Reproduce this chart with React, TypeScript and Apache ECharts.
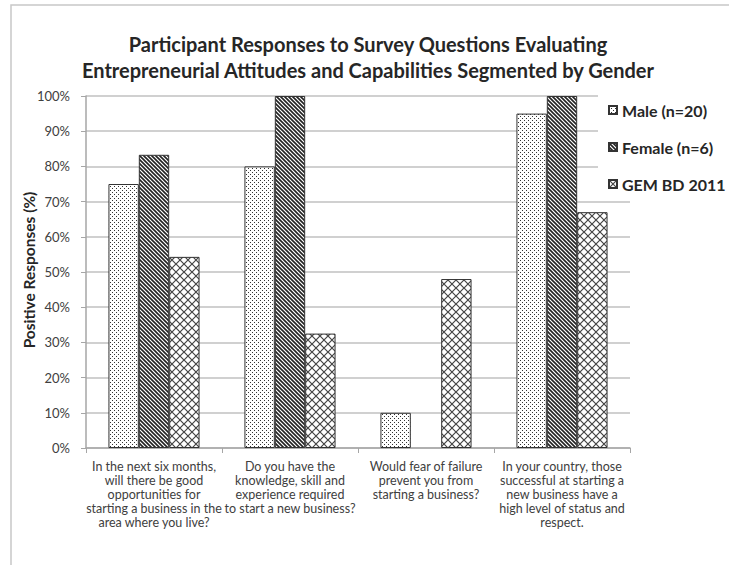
import React, { useEffect, useRef } from "react";
import * as echarts from "echarts";

const categories = [
  "In the next six months,\nwill there be good\nopportunities for\nstarting a business in the\narea where you live?",
  "Do you have the\nknowledge, skill and\nexperience required\nto start a new business?",
  "Would fear of failure\nprevent you from\nstarting a business?",
  "In your country, those\nsuccessful at starting a\nnew business have a\nhigh level of status and\nrespect.",
];
const seriesNames = ["Male (n=20)", "Female (n=6)", "GEM BD 2011"];
const maleValues = [75, 80, 10, 95];
const femaleValues = [83.3, 100, null, 100];
const gemValues = [54.3, 32.5, 48, 67];
const titleLines = [
  "Participant Responses to Survey Questions Evaluating",
  "Entrepreneurial Attitudes and Capabilities Segmented by Gender",
];
const yAxisTitle = "Positive Responses (%)";

const svgUrl = (s: string) => "data:image/svg+xml;utf8," + encodeURIComponent(s);

const dotTile = svgUrl(
  '<svg xmlns="http://www.w3.org/2000/svg" width="4" height="4"><rect width="4" height="4" fill="#fff"/><rect x="0" y="0" width="1" height="1" fill="#333"/><rect x="2" y="2" width="1" height="1" fill="#333"/></svg>'
);
const hatchTile = svgUrl(
  '<svg xmlns="http://www.w3.org/2000/svg" width="4" height="4"><rect width="4" height="4" fill="#fff"/><path d="M-1,-1 L5,5 M-1,3 L1,5 M3,-1 L5,1" stroke="#222" stroke-width="1.6"/></svg>'
);
const crossTile = svgUrl(
  '<svg xmlns="http://www.w3.org/2000/svg" width="8" height="8"><rect width="8" height="8" fill="#fff"/><path d="M0,0 L8,8 M8,0 L0,8" stroke="#444" stroke-width="1.2"/></svg>'
);

const patterns = [
  { image: dotTile, repeat: "repeat", imageWidth: 4, imageHeight: 4 },
  { image: hatchTile, repeat: "repeat", imageWidth: 4, imageHeight: 4 },
  { image: crossTile, repeat: "repeat", imageWidth: 8, imageHeight: 8 },
];

export default function App() {
  const ref = useRef<HTMLDivElement>(null);
  useEffect(() => {
    if (!ref.current) return;
    const chart = echarts.init(ref.current, undefined, { renderer: "svg" });
    const font = "Lato";
    const values = [maleValues, femaleValues, gemValues];
    chart.setOption({
      animation: false,
      backgroundColor: "#fff",
      textStyle: { fontFamily: font },
      grid: { left: 86, right: 99, top: 96, bottom: 117 },
      graphic: [
        {
          type: "rect",
          shape: { x: 11, y: 5, width: 740, height: 600 },
          style: { fill: "none", stroke: "#c8c8c8", lineWidth: 1.5 },
          z: -1,
        },
        ...titleLines.map((t, i) => ({
          type: "text",
          x: 368,
          y: 44 + i * 26,
          style: {
            text: t,
            align: "center",
            verticalAlign: "middle",
            textAlign: "center",
            textVerticalAlign: "middle",
            fill: "#262626",
            fontSize: 20,
            fontWeight: "bold",
            fontFamily: font,
          },
        })),
        {
          type: "text",
          x: 29,
          y: 270,
          rotation: Math.PI / 2,
          style: {
            text: yAxisTitle,
            align: "center",
            verticalAlign: "middle",
            textAlign: "center",
            textVerticalAlign: "middle",
            fill: "#262626",
            fontSize: 15.5,
            fontWeight: "bold",
            fontFamily: font,
          },
        },
      ],
      legend: {
        orient: "vertical",
        left: 598,
        top: 90,
        icon: "rect",
        itemWidth: 8,
        itemHeight: 8,
        itemGap: 21,
        padding: [12, 8, 6, 10],
        backgroundColor: "#fff",
        textStyle: { fontSize: 16, fontWeight: "bold", color: "#262626", fontFamily: font },
        data: seriesNames,
      },
      xAxis: {
        type: "category",
        data: categories,
        axisLine: { lineStyle: { color: "#a6a6a6", width: 1.5 } },
        axisTick: { show: true, length: 5, lineStyle: { color: "#a6a6a6" } },
        axisLabel: {
          interval: 0,
          fontSize: 12.5,
          lineHeight: 14,
          color: "#404040",
          margin: 11,
          fontFamily: font,
        },
      },
      yAxis: {
        type: "value",
        min: 0,
        max: 100,
        interval: 10,
        axisLine: { show: true, lineStyle: { color: "#a6a6a6", width: 1.5 } },
        axisTick: { show: true, length: 5, lineStyle: { color: "#a6a6a6" } },
        axisLabel: { formatter: "{value}%", fontSize: 13, color: "#404040", margin: 16, fontFamily: font },
        splitLine: { lineStyle: { color: "#c0c0c0", width: 1.5 } },
      },
      series: seriesNames.map((name, i) => ({
        name,
        type: "bar",
        data: values[i],
        barGap: "0%",
        barCategoryGap: "33%",
        itemStyle: { color: patterns[i], borderColor: "#333", borderWidth: 1 },
      })),
    });
    return () => chart.dispose();
  }, []);
  return (
    <div
      ref={ref}
      style={{ position: "fixed", left: 0, top: 0, width: 729, height: 565 }}
    />
  );
}
